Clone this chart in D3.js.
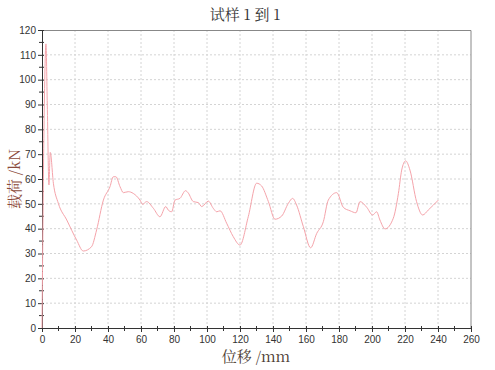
<!DOCTYPE html>
<html>
<head>
<meta charset="utf-8">
<script src="https://cdn.jsdelivr.net/npm/d3@7"></script>
<style>
  body { margin: 0; background: #fff; }
  .tick text { font-family: "Liberation Sans", Arial, sans-serif; font-size: 10px; fill: #333; }
</style>
</head>
<body>
<div id="chart"></div>
<script>
// displacement (mm) and load (kN)
var displacement = [0, 1.2, 2.4, 3.2, 4.2, 5, 6.9, 9.9, 15, 21, 25, 30, 33.1, 37.2, 41.2, 43.2, 44.8, 47.3, 49.3,
  52.3, 55.3, 59.4, 61, 63.4, 67.5, 71.5, 75, 76.5, 78.6, 80.6, 83.6, 87, 88.6, 91.7, 94.7, 96.8, 100.8,
  103.8, 105.9, 107.9, 111.9, 115.9, 120, 125, 130.1, 133.1, 137.2, 141.2, 145.3, 149.3, 151.9, 154.3,
  158.4, 162.8, 166.5, 170.5, 173.5, 178.6, 182.6, 186.7, 190.3, 192.7, 196.8, 200.4, 202.8, 204.8,
  207.9, 212.9, 216, 218, 220.4, 223, 227, 230.7, 234.1, 237.2, 240.2];
var load = [0, 80, 114.4, 90, 57.6, 70.7, 58.3, 50.2, 43.5, 35.4, 31, 32.7, 39.5, 51.5, 56.9, 60.9, 60.9, 56.9, 54.5,
  54.9, 54.2, 51.5, 49.8, 50.9, 48.2, 44.8, 48.9, 47.5, 46.8, 51.5, 52.2, 55.3, 54.4, 50.9, 50.5, 48.9, 51.1,
  48.2, 46.8, 47.2, 42.2, 36.8, 33.4, 44.8, 58.3, 57.2, 50.9, 43.8, 45.1, 50.2, 52.2, 49.5,
  40.8, 32.3, 38.1, 42.8, 51.5, 54.5, 48.6, 47.2, 46.4, 50.9, 48.6, 45.5, 46.8, 43.5,
  39.9, 44.2, 54.2, 63.6, 67.3, 63.6, 50.9, 45.5, 47.5, 49.5, 51.5];
var xTicks = d3.range(0, 261, 20);
var yTicks = d3.range(0, 121, 10);

var svgWidth = 495, svgHeight = 370;
var margin = { top: 30, right: 24, bottom: 42, left: 42 };
var width = svgWidth - margin.left - margin.right;
var height = svgHeight - margin.top - margin.bottom;

var svg = d3.select("#chart").append("svg")
  .attr("width", svgWidth)
  .attr("height", svgHeight);

var g = svg.append("g")
  .attr("transform", `translate(${margin.left}, ${margin.top})`);

var x = d3.scaleLinear().domain([0, 260]).range([0, width]);
var y = d3.scaleLinear().domain([0, 120]).range([height, 0]);

// grid
g.append("g").selectAll("line")
  .data(xTicks.slice(1, -1))
  .enter().append("line")
  .attr("x1", d => x(d)).attr("x2", d => x(d))
  .attr("y1", 0).attr("y2", height)
  .attr("stroke", "#d4d4d4").attr("stroke-dasharray", "2,2");
g.append("g").selectAll("line")
  .data(yTicks.slice(1, -1))
  .enter().append("line")
  .attr("y1", d => y(d)).attr("y2", d => y(d))
  .attr("x1", 0).attr("x2", width)
  .attr("stroke", "#d4d4d4").attr("stroke-dasharray", "2,2");

// top and right frame
g.append("path")
  .attr("d", `M0,0.5H${width}V${height}`)
  .attr("fill", "none")
  .attr("stroke", "#888");

// minor ticks
g.append("g").selectAll("line")
  .data(d3.range(5, 120, 10))
  .enter().append("line")
  .attr("x1", -3).attr("x2", 2)
  .attr("y1", d => y(d)).attr("y2", d => y(d))
  .attr("stroke", "#333");
g.append("g").selectAll("line")
  .data(d3.range(10, 260, 20))
  .enter().append("line")
  .attr("y1", height - 2).attr("y2", height + 3)
  .attr("x1", d => x(d)).attr("x2", d => x(d))
  .attr("stroke", "#333");

var xAxis = g.append("g")
  .attr("transform", `translate(0, ${height})`)
  .call(d3.axisBottom(x).tickValues(xTicks).tickSize(4).tickPadding(4));
var yAxis = g.append("g")
  .call(d3.axisLeft(y).tickValues(yTicks).tickSize(4).tickPadding(2));
[xAxis, yAxis].forEach(a => {
  a.select(".domain").attr("stroke", "#333");
  a.selectAll(".tick line").attr("stroke", "#333");
});
xAxis.selectAll(".tick line").attr("y1", -2);
yAxis.selectAll(".tick line").attr("x1", 2);

// curve
var line = d3.line()
  .x((d, i) => x(displacement[i]))
  .y(d => y(d))
  .curve(d3.curveMonotoneX);
g.append("path")
  .datum(load)
  .attr("fill", "none")
  .attr("stroke", "#f5a3aa")
  .attr("stroke-width", 1)
  .attr("d", line);

// titles
svg.append("text")
  .attr("x", 245).attr("y", 20)
  .attr("text-anchor", "middle")
  .attr("font-family", "'Noto Serif CJK SC', 'Noto Sans CJK SC', serif")
  .attr("font-size", "15px")
  .attr("fill", "#333")
  .text("试样 1 到 1");

svg.append("text")
  .attr("x", 256).attr("y", 362)
  .attr("text-anchor", "middle")
  .attr("font-family", "'Noto Serif CJK SC', 'Noto Sans CJK SC', serif")
  .attr("font-size", "15px")
  .attr("fill", "#4a3a30")
  .text("位移 /mm");

svg.append("text")
  .attr("transform", "translate(20, 179) rotate(-90)")
  .attr("text-anchor", "middle")
  .attr("font-family", "'Noto Serif CJK SC', 'Noto Sans CJK SC', serif")
  .attr("font-size", "15px")
  .attr("fill", "#8b4a3a")
  .text("载荷 /kN");
</script>
</body>
</html>
